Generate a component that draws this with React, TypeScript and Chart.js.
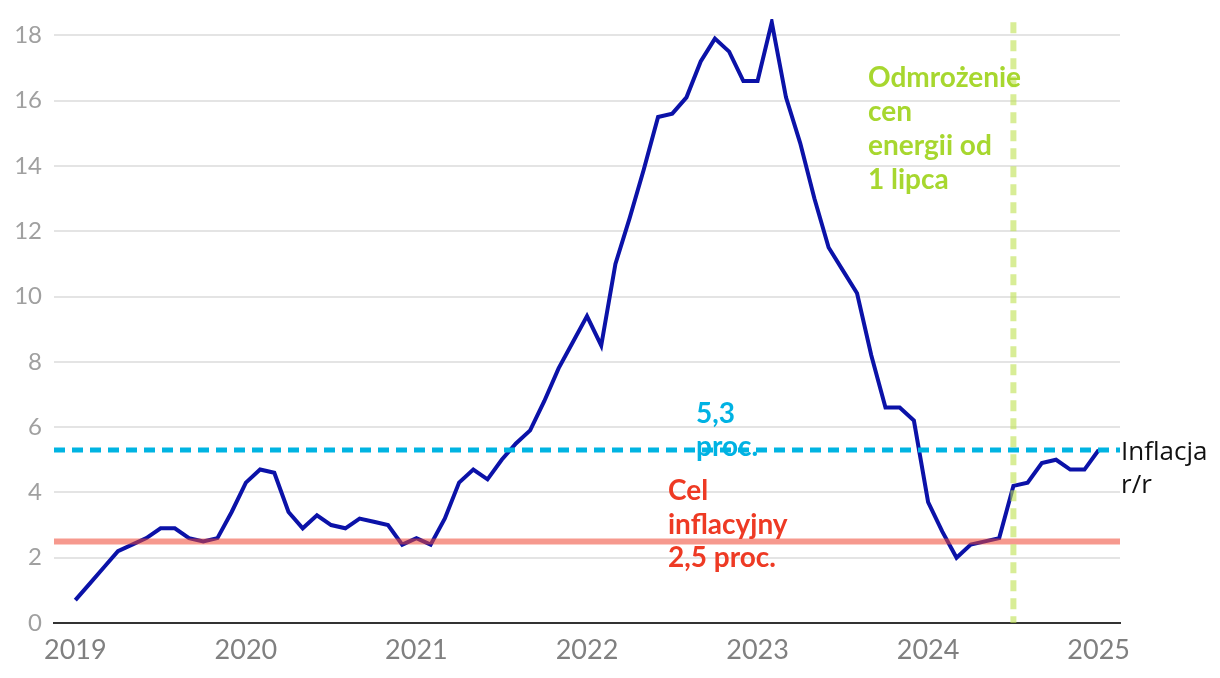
import React, { useEffect, useRef } from "react";
import { Chart, registerables } from "chart.js";

Chart.register(...registerables);

const startYear = 2019;
const yearLabels = ["2019", "2020", "2021", "2022", "2023", "2024", "2025"];
const inflation = [
  0.7, 1.2, 1.7, 2.2, 2.4, 2.6, 2.9, 2.9, 2.6, 2.5, 2.6, 3.4,
  4.3, 4.7, 4.6, 3.4, 2.9, 3.3, 3.0, 2.9, 3.2, 3.1, 3.0, 2.4,
  2.6, 2.4, 3.2, 4.3, 4.7, 4.4, 5.0, 5.5, 5.9, 6.8, 7.8, 8.6,
  9.4, 8.5, 11.0, 12.4, 13.9, 15.5, 15.6, 16.1, 17.2, 17.9, 17.5, 16.6,
  16.6, 18.4, 16.1, 14.7, 13.0, 11.5, 10.8, 10.1, 8.2, 6.6, 6.6, 6.2,
  3.7, 2.8, 2.0, 2.4, 2.5, 2.6, 4.2, 4.3, 4.9, 5.0, 4.7, 4.7,
  5.3,
];
const targetValue = 2.5;
const averageValue = 5.3;
const energyUnfreezeMonth = 66; // July 2024
const targetLabel = ["Cel", "inflacyjny", "2,5 proc."];
const averageLabel = ["5,3", "proc."];
const energyLabel = ["Odmrożenie", "cen", "energii od", "1 lipca"];
const seriesLabel = ["Inflacja", "r/r"];

const annotationPlugin = {
  id: "annotations",
  afterDatasetsDraw(chart: any) {
    const { ctx, chartArea, scales } = chart;
    const xs = scales.x;
    const ys = scales.y;
    ctx.save();
    // target line
    const yT = ys.getPixelForValue(targetValue);
    ctx.strokeStyle = "rgba(238, 70, 50, 0.55)";
    ctx.lineWidth = 6;
    ctx.setLineDash([]);
    ctx.beginPath();
    ctx.moveTo(chartArea.left, yT);
    ctx.lineTo(chartArea.right, yT);
    ctx.stroke();
    // average dashed line
    const yA = ys.getPixelForValue(averageValue);
    ctx.strokeStyle = "#00b4e2";
    ctx.lineWidth = 5;
    ctx.setLineDash([11, 7]);
    ctx.beginPath();
    ctx.moveTo(chartArea.left, yA);
    ctx.lineTo(chartArea.right, yA);
    ctx.stroke();
    // vertical green dashed
    const xE = xs.getPixelForValue(energyUnfreezeMonth);
    ctx.strokeStyle = "rgba(190, 225, 80, 0.6)";
    ctx.lineWidth = 6;
    ctx.setLineDash([11, 7]);
    ctx.beginPath();
    ctx.moveTo(xE, ys.getPixelForValue(18.4));
    ctx.lineTo(xE, ys.getPixelForValue(0));
    ctx.stroke();
    ctx.setLineDash([]);

    ctx.textAlign = "left";
    ctx.textBaseline = "alphabetic";
    ctx.font = "bold 28px Lato";
    ctx.fillStyle = "#a7d72f";
    energyLabel.forEach((t, i) => ctx.fillText(t, 868, 87 + i * 34));
    ctx.fillStyle = "#00b2e3";
    averageLabel.forEach((t, i) => ctx.fillText(t, 696, 423 + i * 33));
    ctx.fillStyle = "#ee3a24";
    targetLabel.forEach((t, i) => ctx.fillText(t, 668, 500 + i * 33.5));
    ctx.font = "26px 'Open Sans'";
    ctx.fillStyle = "#111111";
    seriesLabel.forEach((t, i) => ctx.fillText(t, 1121, 460 + i * 33));
    ctx.restore();
  },
};

export default function App() {
  const canvasRef = useRef<HTMLCanvasElement | null>(null);

  useEffect(() => {
    document.body.style.margin = "0";
    const canvas = canvasRef.current;
    if (!canvas) return;
    const chart = new Chart(canvas, {
      type: "line",
      data: {
        datasets: [
          {
            label: "Inflacja r/r",
            data: inflation.map((v, i) => ({ x: i, y: v })),
            borderColor: "#0b12a8",
            borderWidth: 4,
            pointRadius: 0,
            tension: 0,
            fill: false,
          },
        ],
      },
      options: {
        responsive: false,
        animation: false,
        devicePixelRatio: 1,
        layout: { padding: { top: 19, right: 100, left: 0, bottom: 0 } },
        plugins: {
          legend: { display: false },
          tooltip: { enabled: false },
        },
        scales: {
          x: {
            type: "linear",
            min: -1.5,
            max: 73.5,
            afterFit: (s: any) => {
              s.height = 55;
              s.paddingLeft = 0;
              s.paddingRight = 0;
            },
            afterBuildTicks: (s: any) => {
              s.ticks = yearLabels.map((_, i) => ({ value: i * 12 }));
            },
            grid: { display: false, drawTicks: false },
            border: { display: true, color: "#333333", width: 2 },
            ticks: {
              padding: 11,
              color: "#808080",
              font: { family: "Lato", size: 27 },
              maxRotation: 0,
              autoSkip: false,
              callback: (v: any) => String(startYear + Math.round(Number(v) / 12)),
            },
          },
          y: {
            min: 0,
            max: 18.5,
            afterFit: (s: any) => {
              s.width = 54;
              s.paddingTop = 0;
              s.paddingBottom = 0;
            },
            grid: { color: "#e4e4e4", lineWidth: 2, drawTicks: false },
            border: { display: false },
            ticks: {
              stepSize: 2,
              includeBounds: false,
              padding: 12,
              color: "#a0a0a0",
              font: { family: "Lato", size: 24 },
            },
          },
        },
      },
      plugins: [annotationPlugin],
    });
    return () => chart.destroy();
  }, []);

  return (
    <div style={{ position: "absolute", left: 0, top: 0, width: 1220, height: 678 }}>
      <canvas ref={canvasRef} width={1220} height={678} style={{ width: 1220, height: 678 }} />
    </div>
  );
}
